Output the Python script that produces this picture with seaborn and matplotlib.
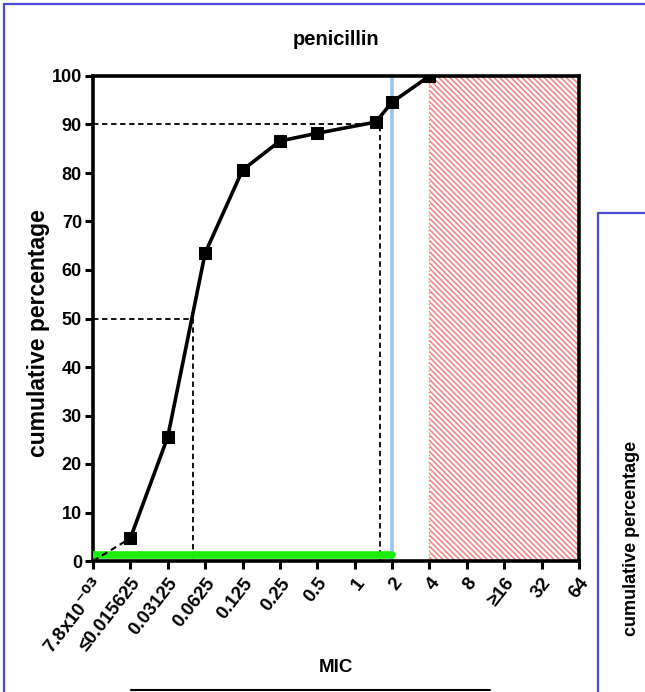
import numpy as np
import pandas as pd
import matplotlib
matplotlib.use("Agg")
import matplotlib.pyplot as plt
import seaborn as sns
from matplotlib.lines import Line2D
from matplotlib.patches import Rectangle

# ---- data ----
tick_labels = ["7.8x10$^{-03}$", "≤0.015625", "0.03125", "0.0625", "0.125", "0.25",
               "0.5", "1", "2", "4", "8", "≥16", "32", "64"]
mic_pos = [1, 2, 3, 4, 5, 6, 7.56, 8, 9]          # position on log2 MIC axis
cum_pct = [4.7, 25.6, 63.5, 80.6, 86.6, 88.2, 90.5, 94.6, 100.0]
start_pos = [0, 1]
start_pct = [0.0, 4.7]
mic50_pos, mic90_pos = 2.67, 7.67
susceptible_range = [0, 8]      # green bar
breakpoint_pos = 8              # blue line (MIC = 2)
resistant_range = [9, 13]       # hatched region
title = "penicillin"

sns.set_theme(style="white")
plt.rcParams['font.family'] = ['Liberation Sans', 'DejaVu Sans']
plt.rcParams['mathtext.default'] = 'bf'
plt.rcParams['hatch.linewidth'] = 1.1
plt.rcParams['text.color'] = 'black'
plt.rcParams['axes.labelcolor'] = 'black'
plt.rcParams['xtick.color'] = 'black'
plt.rcParams['ytick.color'] = 'black'

W, H = 645, 692
fig = plt.figure(figsize=(W / 100, H / 100), dpi=100)
ax = fig.add_axes([93 / W, 1 - 561 / H, (579 - 93) / W, (561 - 76) / H])

# resistant hatched region
ax.add_patch(Rectangle((resistant_range[0], 0), resistant_range[1] - resistant_range[0], 100,
                       facecolor='none', edgecolor='#f27f7f', hatch='\\' * 6,
                       linewidth=1.0, linestyle=':', zorder=1))

# reference dashed lines
ax.plot([0, mic50_pos, mic50_pos], [50, 50, 0], color='black', lw=1.3, ls=(0, (3, 2)), zorder=2)
ax.plot([0, mic90_pos, mic90_pos], [90, 90, 0], color='black', lw=1.3, ls=(0, (3, 2)), zorder=2)

# breakpoint line
ax.axvline(breakpoint_pos, color='#9cc3f0', lw=2.6, zorder=2)

# green susceptible bar
ax.plot(susceptible_range, [1.2, 1.2], color='#1cee0c', lw=5.5, solid_capstyle='round', zorder=3)

# start dashed segment
ax.plot(start_pos, start_pct, color='black', lw=1.5, ls=(0, (3, 2)), zorder=4)

df = pd.DataFrame({"pos": mic_pos, "pct": cum_pct})
sns.lineplot(data=df, x="pos", y="pct", ax=ax, color='black', lw=2.6, marker='s',
             markersize=8, markeredgecolor='black', zorder=5, sort=False)

ax.set_xlim(0, 13)
ax.set_ylim(0, 100)
ax.set_xticks(range(len(tick_labels)))
ax.set_xticklabels(tick_labels, rotation=52, ha='right', rotation_mode='anchor',
                   fontsize=13.5, fontweight='bold')
ax.set_yticks(range(0, 101, 10))
ax.set_yticklabels([str(v) for v in range(0, 101, 10)], fontsize=13, fontweight='bold')
ax.tick_params(axis='both', which='major', direction='out', length=6, width=2.2,
               color='black', bottom=True, left=True, pad=2)
ax.tick_params(axis='x', pad=4)
for s in ax.spines.values():
    s.set_linewidth(2.6)
    s.set_color('black')
    s.set_visible(True)

ax.set_xlabel("MIC", fontsize=13.5, fontweight='bold')
ax.xaxis.set_label_coords(0.5, -(668 - 561) / (561 - 76))
ax.xaxis.label.set_va('center')
ax.set_ylabel("cumulative percentage", fontsize=16.5, fontweight='bold')
ax.yaxis.set_label_coords(-(93 - 38) / (579 - 93), (561 - 333) / (561 - 76))
ax.yaxis.label.set_va('center')
ax.set_title(title, fontsize=14.5, fontweight='bold', pad=22)

# frames
blue = '#4a4ad6'
fig.add_artist(Line2D([4 / W, 4 / W], [0, 1 - 4 / H], color=blue, lw=1.6, transform=fig.transFigure))
fig.add_artist(Line2D([4 / W, 1], [1 - 4 / H, 1 - 4 / H], color=blue, lw=1.6, transform=fig.transFigure))
fig.add_artist(Line2D([598 / W, 598 / W], [0, 1 - 213 / H], color=blue, lw=1.6, transform=fig.transFigure))
fig.add_artist(Line2D([598 / W, 1], [1 - 213 / H, 1 - 213 / H], color=blue, lw=1.6, transform=fig.transFigure))
fig.add_artist(Line2D([131 / W, 490 / W], [1 - 690 / H, 1 - 690 / H], color='black', lw=1.5,
                      transform=fig.transFigure))
fig.text(631 / W, 1 - 538 / H, "cumulative percentage", rotation=90, ha='center', va='center',
         fontsize=13, fontweight='bold')

fig.savefig("out.png", dpi=100)
